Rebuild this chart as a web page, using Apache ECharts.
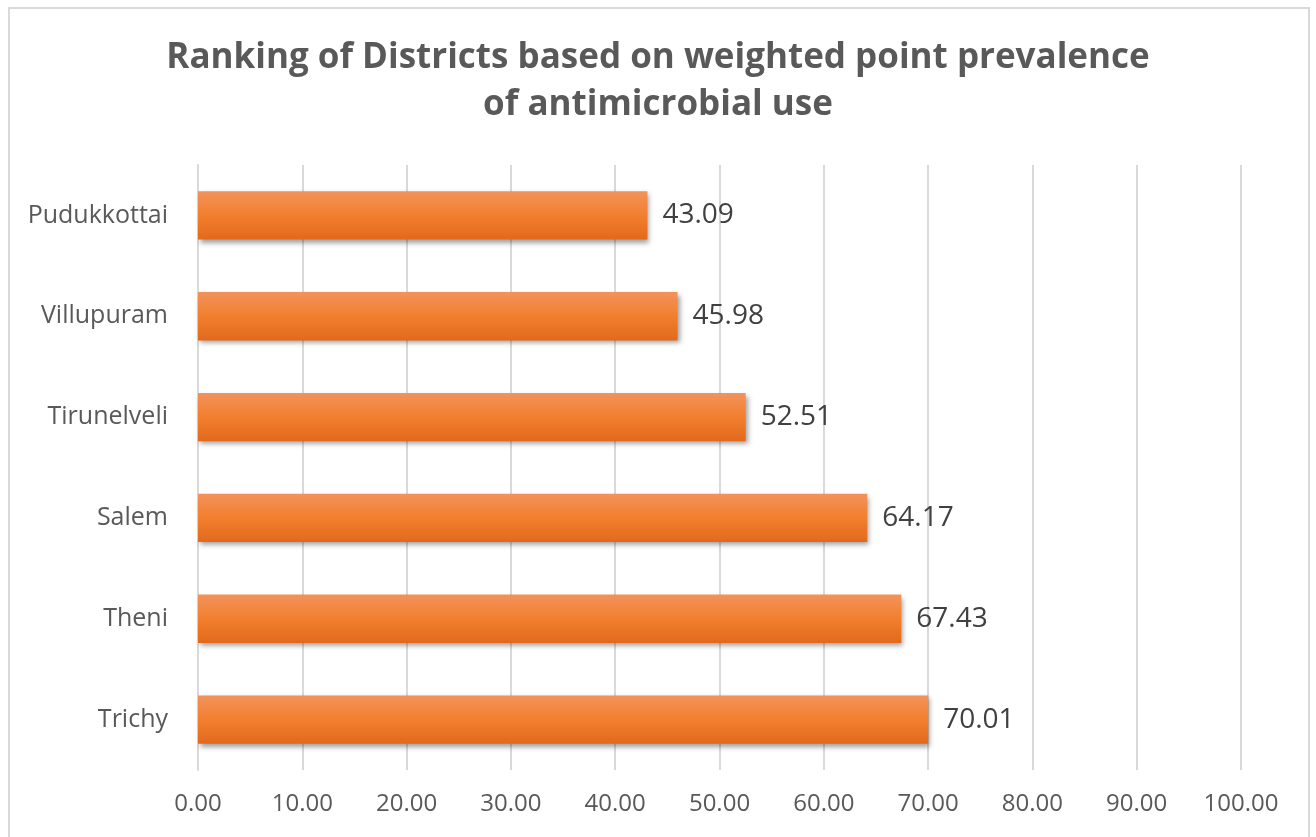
<!DOCTYPE html>
<html>
<head>
<meta charset="utf-8">
<script src="https://cdn.jsdelivr.net/npm/echarts@6/dist/echarts.min.js"></script>
<style>
  html, body { margin: 0; padding: 0; background: #fff; }
  #frame { position: absolute; left: 8px; top: 7px; width: 1302px; height: 840px; border: 2px solid #D9D9D9; box-sizing: border-box; }
  #chart { position: absolute; left: 0; top: 0; width: 1316px; height: 837px; }
</style>
</head>
<body>
<div id="frame"></div>
<div id="chart"></div>
<script>
// Districts listed bottom-to-top as they appear on the category axis
const districts = ['Trichy', 'Theni', 'Salem', 'Tirunelveli', 'Villupuram', 'Pudukkottai'];
// Weighted point prevalence of antimicrobial use (%)
const prevalence = [70.01, 67.43, 64.17, 52.51, 45.98, 43.09];
const axisTicks = [0, 10, 20, 30, 40, 50, 60, 70, 80, 90, 100];

const chart = echarts.init(document.getElementById('chart'), null, { renderer: 'canvas' });
const font = '"Open Sans", "Liberation Sans", sans-serif';

chart.setOption({
  animation: false,
  backgroundColor: 'transparent',
  title: {
    text: 'Ranking of Districts based on weighted point prevalence\nof antimicrobial use',
    left: 'center',
    top: 30,
    textStyle: { fontFamily: font, fontSize: 35, fontWeight: 'bold', color: '#595959', lineHeight: 47 }
  },
  grid: { left: 198, right: 75, top: 165, bottom: 67, containLabel: false },
  xAxis: {
    type: 'value',
    min: axisTicks[0],
    max: axisTicks[axisTicks.length - 1],
    interval: 10,
    axisLine: { show: false },
    axisTick: { show: false },
    splitLine: { show: true, lineStyle: { color: '#D9D9D9', width: 2 } },
    axisLabel: {
      margin: 22,
      fontFamily: font, fontSize: 24, color: '#595959',
      formatter: v => v.toFixed(2)
    }
  },
  yAxis: {
    type: 'category',
    data: districts,
    axisLine: { show: true, lineStyle: { color: '#D9D9D9', width: 2 } },
    axisTick: { show: false },
    axisLabel: { margin: 30, fontFamily: font, fontSize: 25, color: '#595959' }
  },
  series: [{
    type: 'bar',
    data: prevalence,
    barWidth: '48%',
    itemStyle: {
      color: new echarts.graphic.LinearGradient(0, 0, 0, 1, [
        { offset: 0, color: '#F2935C' },
        { offset: 0.5, color: '#F27F2E' },
        { offset: 1, color: '#E2691C' }
      ]),
      shadowColor: 'rgba(0,0,0,0.38)',
      shadowBlur: 5,
      shadowOffsetX: 2,
      shadowOffsetY: 3
    },
    label: {
      show: true,
      position: 'right',
      distance: 15,
      fontFamily: font, fontSize: 28, color: '#404040',
      formatter: p => p.value.toFixed(2)
    }
  }]
});
</script>
</body>
</html>
